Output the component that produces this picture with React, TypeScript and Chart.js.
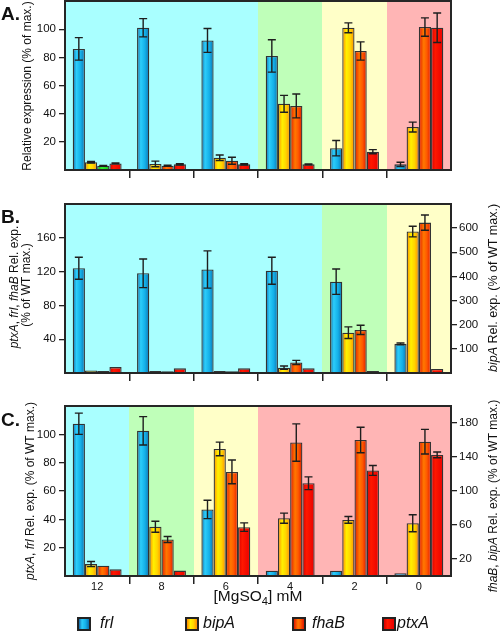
import React, { useEffect, useRef } from 'react';
import { Chart, registerables } from 'chart.js';
Chart.register(...registerables);

const categories = ['12', '8', '6', '4', '2', '0'];
const genes = ['frl', 'bipA', 'fhaB', 'ptxA'];

// Panel A (% of max.)
const aFrl = [86, 101, 92, 81, 15.5, 4];
const aFrlErr = [8, 6.5, 8.5, 11.5, 5.5, 1.5];
const aBipA = [5.5, 4.3, 8.7, 47, 101, 30.5];
const aBipAErr = [0.5, 2, 2, 6, 3.5, 3.5];
const aFhaB = [3, 3, 6.6, 45.5, 84.5, 101.5];
const aFhaBErr = [0.3, 0.4, 2.5, 8.5, 6.5, 6.5];
const aPtxA = [4.7, 4, 4, 4, 13, 101];
const aPtxAErr = [0.3, 0.4, 0.5, 0.3, 1.5, 10.5];
const aRegions = ['blue', 'blue', 'blue', 'green', 'yellow', 'red'];
const aYTicks = [20, 40, 60, 80, 100];

// Panel B (left: ptxA, frl, fhaB; right: bipA)
const bFrl = [124, 118, 122.5, 121, 108, 34.5];
const bFrlErr = [13, 17, 22, 16, 15, 1];
const bBipA = [10, 8, 8, 22, 167, 586];
const bBipAErr = [0, 0, 0, 7, 24, 22];
const bFhaB = [2.5, 2, 2, 12.5, 51, 178];
const bFhaBErr = [0, 0, 0, 2.5, 5.5, 9];
const bPtxA = [7, 5.5, 5.5, 5.5, 2.5, 4.7];
const bPtxAErr = [0, 0, 0, 0, 0, 0];
const bRegions = ['blue', 'blue', 'blue', 'blue', 'green', 'yellow'];
const bYTicks = [40, 80, 120, 160];
const bY2Ticks = [100, 200, 300, 400, 500, 600];

// Panel C (left: ptxA, frl; right: fhaB, bipA)
const cFrl = [107.5, 102.5, 47, 3.7, 3.7, 1.9];
const cFrlErr = [7.5, 10, 6.5, 0, 0, 0];
const cBipA = [14, 58, 149.5, 68, 66, 62];
const cBipAErr = [3, 6.5, 8, 6, 4, 10];
const cFhaB = [12, 43, 122.5, 157, 160, 158];
const cFhaBErr = [0, 3.5, 14, 22, 15, 14.5];
const cPtxA = [4.7, 3.8, 34.5, 65.5, 74.5, 85.5];
const cPtxAErr = [0, 0, 3, 4.5, 3.5, 2];
const cRegions = ['blue', 'green', 'yellow', 'red', 'red', 'red'];
const cYTicks = [20, 40, 60, 80, 100];
const cY2Ticks = [20, 60, 100, 140, 180];

const FONT = '"Liberation Sans", Arial, Helvetica, sans-serif';
const CAT_PCT = 0.76;

const REGION_COLORS: Record<string, string> = {
  blue: '#a9ffff',
  green: '#bfffb9',
  yellow: '#ffffc8',
  red: '#ffb5b5',
};

const GRADS: Record<string, [number, string][]> = {
  frl: [[0, '#1466a6'], [0.3, '#2ccdfa'], [0.65, '#14b0e8'], [1, '#0c70b0']],
  bipA: [[0, '#ff8800'], [0.35, '#fff000'], [0.65, '#ffd400'], [1, '#ff8c00']],
  fhaB: [[0, '#e01800'], [0.4, '#ff7800'], [0.65, '#ff5a00'], [1, '#e01800']],
  ptxA: [[0, '#d40000'], [0.35, '#ff1800'], [1, '#e80000']],
  green: [[0, '#12b012'], [0.4, '#34f034'], [1, '#18c018']],
};
const SOLID: Record<string, string> = {
  frl: '#1aa8e0', bipA: '#ffd000', fhaB: '#ff5000', ptxA: '#f00000', green: '#22dd22',
};

function cssGrad(key: string) {
  return 'linear-gradient(to right, ' + GRADS[key].map(([p, c]) => `${c} ${p * 100}%`).join(', ') + ')';
}

function barFill(gene: string, overrides: Record<number, string> = {}) {
  return (ctx: any) => {
    if (ctx.type !== 'data') return SOLID[gene];
    const key = overrides[ctx.dataIndex] || gene;
    const chart = ctx.chart;
    const xs = chart.scales && chart.scales.x;
    if (!xs) return SOLID[key];
    const catW = xs.width / categories.length;
    const group = catW * CAT_PCT;
    const bw = group / genes.length;
    const left = xs.getPixelForValue(ctx.dataIndex) - group / 2 + ctx.datasetIndex * bw;
    if (!isFinite(left) || !isFinite(bw) || bw <= 0) return SOLID[key];
    const g = chart.ctx.createLinearGradient(left, 0, left + bw, 0);
    GRADS[key].forEach(([p, c]) => g.addColorStop(p, c));
    return g;
  };
}

type Seg = { t: string; i?: boolean; b?: boolean; sub?: boolean };
type TextItem = { x: number; y: number; rot?: boolean; size: number; segs: Seg[]; left?: boolean };

function decorPlugin(regions: string[], texts: TextItem[]) {
  return {
    id: 'decor',
    beforeDatasetsDraw(chart: any) {
      const { ctx, chartArea: a, scales } = chart;
      const xs = scales.x;
      const w = (a.right - a.left) / regions.length;
      ctx.save();
      regions.forEach((r, i) => {
        const c = xs.getPixelForValue(i);
        const x0 = Math.round(c - w / 2);
        const x1 = Math.round(c + w / 2);
        ctx.fillStyle = REGION_COLORS[r];
        ctx.fillRect(x0, a.top, x1 - x0, a.bottom - a.top);
      });
      ctx.restore();
    },
    afterDatasetsDraw(chart: any) {
      const { ctx, chartArea: a } = chart;
      ctx.save();
      ctx.strokeStyle = '#1e1e1e';
      ctx.lineWidth = 1.4;
      chart.data.datasets.forEach((ds: any, di: number) => {
        const meta = chart.getDatasetMeta(di);
        const ys = chart.scales[meta.yAxisID];
        const errs: number[] = ds.errors || [];
        meta.data.forEach((el: any, i: number) => {
          const e = errs[i];
          if (!e) return;
          const v = ds.data[i];
          const yt = ys.getPixelForValue(v + e);
          const yb = ys.getPixelForValue(Math.max(0, v - e));
          const cap = 4;
          ctx.beginPath();
          ctx.moveTo(el.x, yt);
          ctx.lineTo(el.x, yb);
          ctx.moveTo(el.x - cap, yt);
          ctx.lineTo(el.x + cap, yt);
          ctx.moveTo(el.x - cap, yb);
          ctx.lineTo(el.x + cap, yb);
          ctx.stroke();
        });
      });
      ctx.strokeStyle = '#262626';
      ctx.lineWidth = 2;
      ctx.strokeRect(a.left, a.top, a.right - a.left, a.bottom - a.top);
      ctx.restore();
    },
    afterDraw(chart: any) {
      const ctx = chart.ctx;
      for (const it of texts) {
        ctx.save();
        ctx.translate(it.x, it.y);
        if (it.rot) ctx.rotate(-Math.PI / 2);
        const fontFor = (s: Seg) =>
          `${s.i ? 'italic ' : ''}${s.b ? 'bold ' : ''}${s.sub ? it.size * 0.72 : it.size}px ${FONT}`;
        let total = 0;
        const widths = it.segs.map((s) => {
          ctx.font = fontFor(s);
          const w = ctx.measureText(s.t).width;
          total += w;
          return w;
        });
        let x = it.left ? 0 : -total / 2;
        ctx.textBaseline = 'middle';
        ctx.textAlign = 'left';
        ctx.fillStyle = '#111';
        it.segs.forEach((s, k) => {
          ctx.font = fontFor(s);
          ctx.fillText(s.t, x, s.sub ? it.size * 0.3 : 0);
          x += widths[k];
        });
        ctx.restore();
      }
    },
  };
}

const tickFont = { family: FONT, size: 11.5 };

function yAxis(position: string, max: number, step: number, keep: number[], width: number) {
  return {
    type: 'linear',
    position,
    min: 0,
    max,
    ticks: { stepSize: step, font: tickFont, color: '#111', padding: position === 'left' ? 3 : 2 },
    grid: { drawOnChartArea: false, drawTicks: true, tickLength: 6, color: '#222', lineWidth: 1.3 },
    border: { display: false },
    afterBuildTicks: (s: any) => {
      s.ticks = s.ticks.filter((t: any) => keep.includes(t.value));
    },
    afterFit: (s: any) => {
      s.width = width;
      s.paddingTop = 0;
      s.paddingBottom = 0;
    },
  };
}

function xAxis(height: number, showLabels: boolean) {
  return {
    type: 'category',
    offset: true,
    grid: {
      offset: true,
      drawOnChartArea: false,
      drawTicks: true,
      tickLength: 8,
      lineWidth: 1.5,
      color: (c: any) => (c.type === 'tick' && c.index > 0 ? '#222' : 'rgba(0,0,0,0)'),
    },
    border: { display: false },
    ticks: { display: showLabels, font: { family: FONT, size: 11 }, color: '#111', padding: -4, maxRotation: 0, autoSkip: false },
    afterFit: (s: any) => {
      s.height = height;
      s.paddingLeft = 0;
      s.paddingRight = 0;
    },
  };
}

function makeDatasets(
  vals: number[][],
  errs: number[][],
  axes: string[],
  overrides: Record<number, string>[] = []
) {
  return genes.map((g, k) => ({
    label: g,
    data: vals[k],
    errors: errs[k],
    yAxisID: axes[k],
    backgroundColor: barFill(g, overrides[k] || {}),
    borderColor: '#333',
    borderWidth: 1.3,
    categoryPercentage: CAT_PCT,
    barPercentage: 1,
  }));
}

function baseOptions(padding: any, scales: any) {
  return {
    responsive: false,
    animation: false,
    devicePixelRatio: 1,
    events: [],
    layout: { padding },
    plugins: { legend: { display: false }, tooltip: { enabled: false } },
    scales,
  };
}

export default function App() {
  const aRef = useRef<HTMLCanvasElement>(null);
  const bRef = useRef<HTMLCanvasElement>(null);
  const cRef = useRef<HTMLCanvasElement>(null);

  useEffect(() => {
    const charts: Chart[] = [];

    charts.push(
      new Chart(aRef.current as HTMLCanvasElement, {
        type: 'bar',
        data: {
          labels: categories,
          datasets: makeDatasets(
            [aFrl, aBipA, aFhaB, aPtxA],
            [aFrlErr, aBipAErr, aFhaBErr, aPtxAErr],
            ['y', 'y', 'y', 'y'],
            [{}, {}, { 0: 'green' }, {}]
          ) as any,
        },
        options: baseOptions(
          { top: 1, right: 49, left: 0, bottom: 0 },
          { x: xAxis(20, false), y: yAxis('left', 120, 20, aYTicks, 65) }
        ) as any,
        plugins: [
          decorPlugin(aRegions, [
            { x: 1, y: 15, size: 19, left: true, segs: [{ t: 'A.', b: true }] },
            { x: 28, y: 86, rot: true, size: 12, segs: [{ t: 'Relative expression (% of max.)' }] },
          ]),
        ],
      })
    );

    charts.push(
      new Chart(bRef.current as HTMLCanvasElement, {
        type: 'bar',
        data: {
          labels: categories,
          datasets: makeDatasets(
            [bFrl, bBipA, bFhaB, bPtxA],
            [bFrlErr, bBipAErr, bFhaBErr, bPtxAErr],
            ['y', 'y2', 'y', 'y']
          ) as any,
        },
        options: baseOptions(
          { top: 14, right: 0, left: 0, bottom: 0 },
          {
            x: xAxis(17, false),
            y: yAxis('left', 200, 20, bYTicks, 65),
            y2: yAxis('right', 700, 100, bY2Ticks, 49),
          }
        ) as any,
        plugins: [
          decorPlugin(bRegions, [
            { x: 1, y: 28, size: 19, left: true, segs: [{ t: 'B.', b: true }] },
            {
              x: 15, y: 97, rot: true, size: 12,
              segs: [
                { t: 'ptxA', i: true }, { t: ', ' }, { t: 'frl', i: true }, { t: ', ' },
                { t: 'fhaB', i: true }, { t: ' Rel. exp.' },
              ],
            },
            { x: 27, y: 95, rot: true, size: 12, segs: [{ t: '(% of WT max.)' }] },
            {
              x: 494, y: 98, rot: true, size: 12.5,
              segs: [{ t: 'bipA', i: true }, { t: ' Rel. exp. (% of WT max.)' }],
            },
          ]),
        ],
      })
    );

    charts.push(
      new Chart(cRef.current as HTMLCanvasElement, {
        type: 'bar',
        data: {
          labels: categories,
          datasets: makeDatasets(
            [cFrl, cBipA, cFhaB, cPtxA],
            [cFrlErr, cBipAErr, cFhaBErr, cPtxAErr],
            ['y', 'y2', 'y2', 'y']
          ) as any,
        },
        options: baseOptions(
          { top: 16, right: 0, left: 0, bottom: 0 },
          {
            x: xAxis(55, true),
            y: yAxis('left', 120, 20, cYTicks, 65),
            y2: yAxis('right', 200, 20, cY2Ticks, 49),
          }
        ) as any,
        plugins: [
          decorPlugin(cRegions, [
            { x: 1, y: 31, size: 19, left: true, segs: [{ t: 'C.', b: true }] },
            {
              x: 31, y: 101, rot: true, size: 12,
              segs: [
                { t: 'ptxA', i: true }, { t: ', ' }, { t: 'frl', i: true },
                { t: ' Rel. exp. (% of WT max.)' },
              ],
            },
            {
              x: 494, y: 106, rot: true, size: 12,
              segs: [
                { t: 'fhaB', i: true }, { t: ', ' }, { t: 'bipA', i: true },
                { t: ' Rel. exp. (% of WT max.)' },
              ],
            },
            {
              x: 258, y: 207, size: 15.5,
              segs: [{ t: '[MgSO' }, { t: '4', sub: true }, { t: '] mM' }],
            },
          ]),
        ],
      })
    );

    return () => {
      charts.forEach((c) => c.destroy());
    };
  }, []);

  const legendPos = [
    { sx: 77, tx: 100 },
    { sx: 185, tx: 203 },
    { sx: 292, tx: 312 },
    { sx: 382, tx: 397 },
  ];

  return (
    <div style={{ position: 'absolute', left: 0, top: 0, width: 500, height: 631, background: '#fff', overflow: 'hidden' }}>
      <canvas ref={aRef} width={500} height={190} style={{ position: 'absolute', left: 0, top: 0 }} />
      <canvas ref={bRef} width={500} height={200} style={{ position: 'absolute', left: 0, top: 190 }} />
      <canvas ref={cRef} width={500} height={241} style={{ position: 'absolute', left: 0, top: 390 }} />
      {genes.map((g, k) => (
        <React.Fragment key={g}>
          <div
            style={{
              position: 'absolute',
              left: legendPos[k].sx,
              top: 617,
              width: 14,
              height: 14,
              boxSizing: 'border-box',
              border: '2px solid #222',
              background: cssGrad(g),
            }}
          />
          <div
            style={{
              position: 'absolute',
              left: legendPos[k].tx,
              top: 614,
              height: 18,
              lineHeight: '18px',
              fontFamily: FONT,
              fontStyle: 'italic',
              fontSize: 16,
              color: '#111',
              whiteSpace: 'nowrap',
            }}
          >
            {g}
          </div>
        </React.Fragment>
      ))}
    </div>
  );
}
